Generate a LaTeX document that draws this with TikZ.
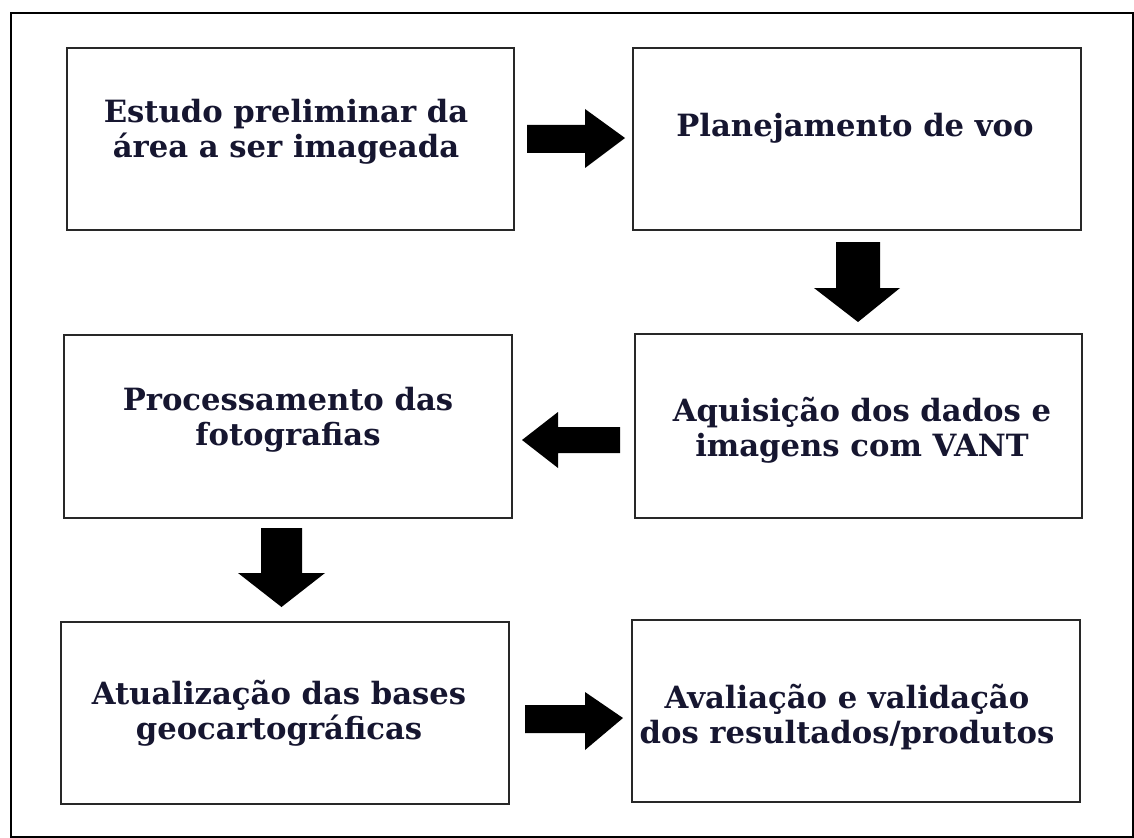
\documentclass[tikz,border=0pt]{standalone}
\usepackage{fontspec}
\setmainfont{DejaVu Serif}
\definecolor{txt}{RGB}{22,22,48}
\definecolor{boxline}{RGB}{40,40,40}
\begin{document}
\begin{tikzpicture}[x=0.75pt,y=-0.75pt,
  flowbox/.style={draw=boxline,line width=1.9pt,fill=white},
  label/.style={text=txt,font=\bfseries\fontsize{23}{26.5}\selectfont,align=center,inner sep=0pt},
  blockarrow/.style={fill=black}]
\useasboundingbox (0,0) rectangle (1134,838);
\fill[white] (0,0) rectangle (1134,838);
% outer frame
\draw[line width=2.2pt,black] (11,13) rectangle (1133,837);
% boxes
\draw[flowbox] (67,48) rectangle (514,230);
\draw[flowbox] (633,48) rectangle (1081,230);
\draw[flowbox] (635,334) rectangle (1082,518);
\draw[flowbox] (64,335) rectangle (512,518);
\draw[flowbox] (61,622) rectangle (509,804);
\draw[flowbox] (632,620) rectangle (1080,802);
% texts
\node[label] (t1) at (286,132) {Estudo preliminar da\\área a ser imageada};
\node[label] (t2) at (855,128) {Planejamento de voo};
\node[label] (t3) at (862,430) {Aquisição dos dados e\\imagens com VANT};
\node[label] (t4) at (288,420) {Processamento das\\fotografias};
\node[label] (t5) at (279,713) {Atualização das bases\\geocartográficas};
\node[label] (t6) at (847,717) {Avaliação e validação\\dos resultados/produtos};
% block arrows
\fill[blockarrow] (527,125) -- (585,125) -- (585,109) -- (625,138) -- (585,168) -- (585,153) -- (527,153) -- cycle;
\fill[blockarrow] (836,242) -- (880,242) -- (880,288) -- (900,288) -- (858,322) -- (814,288) -- (836,288) -- cycle;
\fill[blockarrow] (620,427) -- (558,427) -- (558,412) -- (522,440) -- (558,468) -- (558,453) -- (620,453) -- cycle;
\fill[blockarrow] (261,528) -- (302,528) -- (302,573) -- (325,573) -- (281.5,607) -- (238,573) -- (261,573) -- cycle;
\fill[blockarrow] (525,705) -- (585,705) -- (585,692) -- (623,718) -- (585,750) -- (585,733) -- (525,733) -- cycle;
\end{tikzpicture}
\end{document}
